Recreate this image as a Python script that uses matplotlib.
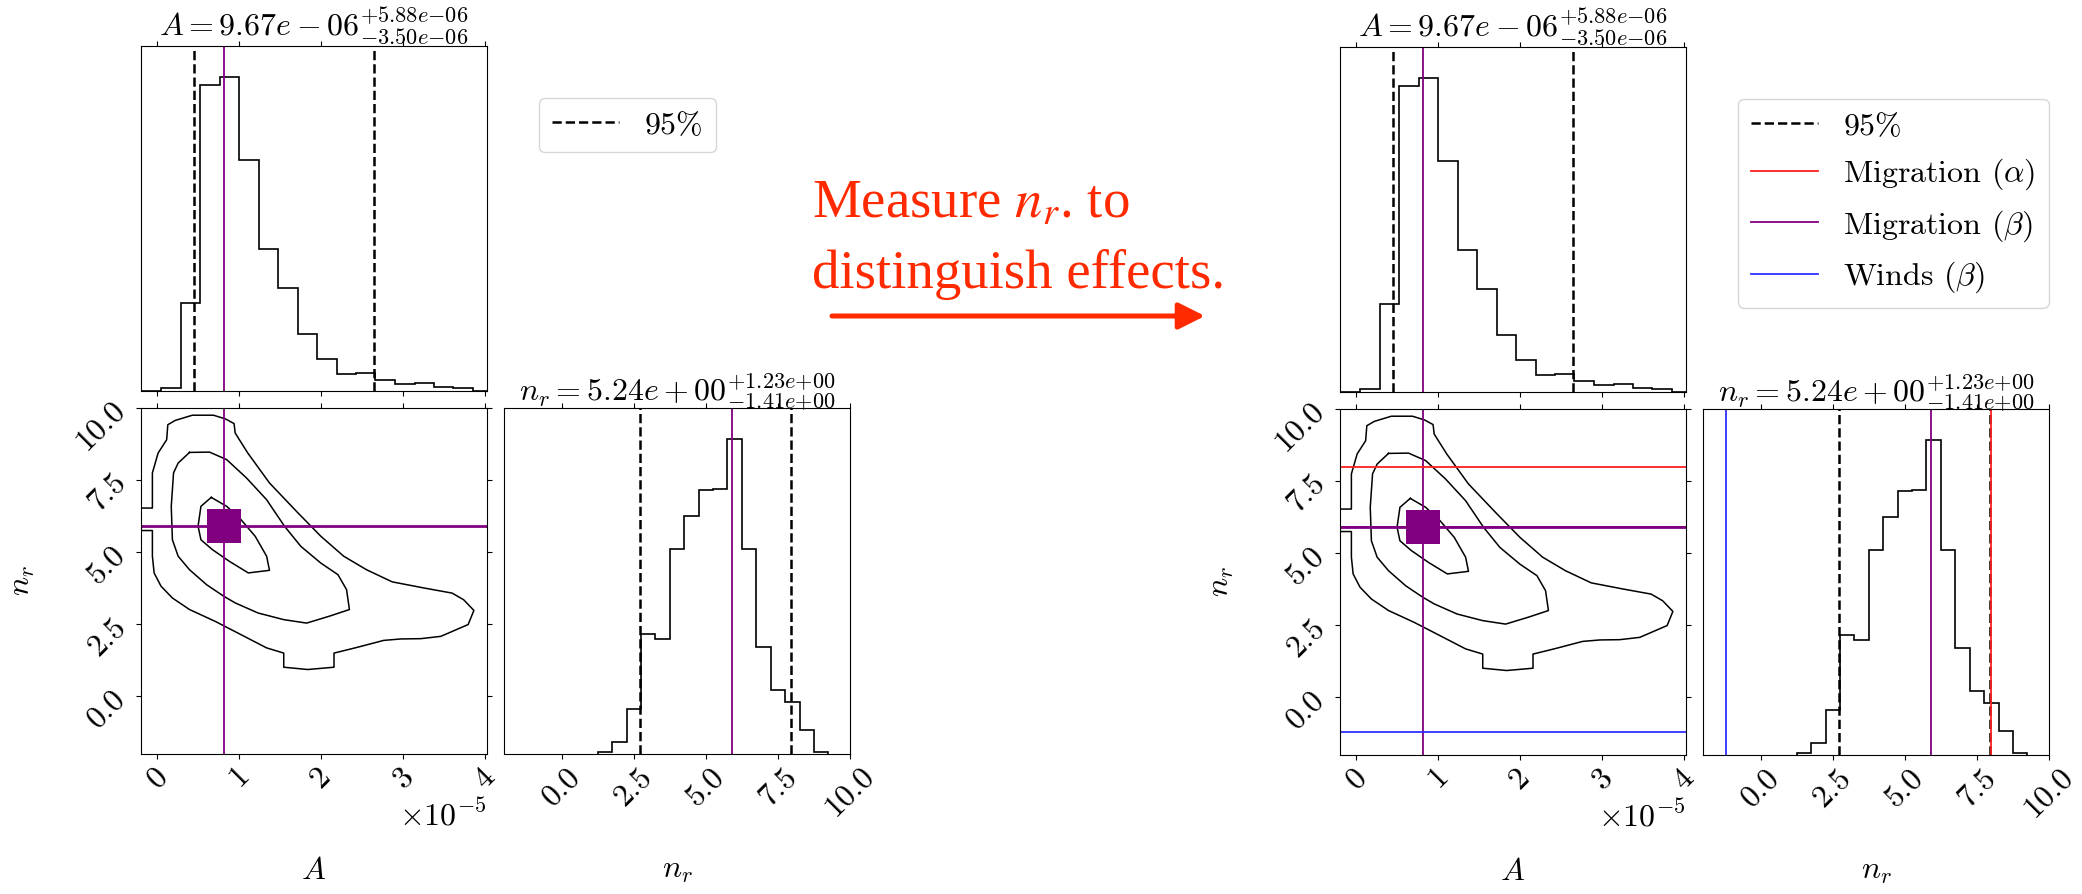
import matplotlib
matplotlib.use("Agg")
import matplotlib.pyplot as plt
from matplotlib.patches import FancyArrowPatch
from matplotlib.ticker import FixedLocator, ScalarFormatter

# ---- data ----
A_SCALE = 1e-5  # A values below are in units of 1e-5

# marginal histogram of A
a_edges = [-0.19, 0.05, 0.29, 0.52, 0.76, 1.00, 1.24, 1.47, 1.71, 1.95,
           2.19, 2.42, 2.66, 2.90, 3.14, 3.37, 3.61, 3.85, 4.09]
a_counts = [0, 8, 265, 920, 943, 694, 426, 309, 172, 97,
            51, 53, 32, 20, 23, 12, 10, 1]

# marginal histogram of n_r
nr_edges = [1.25, 1.75, 2.25, 2.75, 3.25, 3.75, 4.25, 4.75, 5.25,
            5.75, 6.25, 6.75, 7.25, 7.75, 8.25, 8.75, 9.25]
nr_counts = [6, 36, 134, 359, 345, 616, 714, 792, 795,
             943, 616, 322, 192, 155, 72, 5]

# 95% interval lines
a_95 = [0.45, 2.645]
nr_95 = [2.71, 7.95]

# truths / model predictions
a_true = 0.81
nr_beta = 5.9       # Migration (beta)
nr_alpha = 8.0      # Migration (alpha)
nr_winds = -1.2     # Winds (beta)

# 2D contour lines (A in 1e-5, n_r)
outer_a = [-0.200, -0.061, -0.061, 0.009, 0.113, 0.127, 0.218, 0.427, 0.684,
           0.831, 0.935, 0.949, 1.102, 1.367, 1.715, 1.994, 2.272, 2.551,
           2.864, 3.247, 3.595, 3.735, 3.860, 3.790, 3.595, 3.456, 3.212,
           2.969, 2.760, 2.411, 2.154, 2.154, 1.833, 1.541, 1.541, 1.332,
           1.019, 0.705, 0.392, 0.183, 0.044, -0.040, -0.061, -0.061, -0.200]
outer_n = [6.53, 6.53, 7.75, 8.44, 8.90, 9.42, 9.57, 9.75, 9.75,
           9.62, 9.46, 9.13, 8.44, 7.40, 6.36, 5.55, 4.86, 4.39,
           3.97, 3.76, 3.58, 3.35, 2.98, 2.49, 2.25, 2.08, 2.00,
           1.99, 1.94, 1.68, 1.50, 1.01, 0.93, 1.01, 1.50, 1.68,
           2.14, 2.60, 3.01, 3.41, 3.82, 4.28, 4.86, 5.75, 5.75]
mid_a = [0.392, 0.636, 0.845, 1.088, 1.332, 1.550, 1.750, 1.994, 2.202, 2.307,
         2.342, 2.098, 1.820, 1.541, 1.228, 0.949, 0.810, 0.601, 0.392, 0.253,
         0.183, 0.169, 0.197, 0.253, 0.392]
mid_n = [8.46, 8.47, 8.21, 7.57, 6.82, 5.90, 5.20, 4.62, 4.22, 3.70,
         3.01, 2.78, 2.54, 2.66, 2.89, 3.24, 3.47, 3.87, 4.39, 4.86,
         5.43, 6.59, 7.75, 8.09, 8.46]
inner_a = [0.657, 0.845, 1.019, 1.193, 1.332, 1.367, 1.109, 0.879, 0.670,
           0.531, 0.496, 0.531, 0.657]
inner_n = [6.90, 6.59, 6.13, 5.55, 4.86, 4.37, 4.28, 4.68, 5.09,
           5.43, 5.90, 6.59, 6.90]

a_ticks = [0, 1, 2, 3, 4]
nr_ticks = [0.0, 2.5, 5.0, 7.5, 10.0]
a_lim = (-0.2, 4.02)
nr_lim = (-2.0, 10.0)

title_a = r"$A = 9.67e-06^{+5.88e{-}06}_{-3.50e{-}06}$"
title_nr = r"$n_r = 5.24e+00^{+1.23e{+}00}_{-1.41e{+}00}$"

PURPLE = "#800080"
RED = "#ff2020"
BLUE = "#3030ff"
NOTE_RED = "#ff2a00"

plt.rcParams.update({
    "font.family": "serif",
    "font.serif": ["cmr10"],
    "mathtext.fontset": "cm",
    "axes.unicode_minus": False,
    "axes.formatter.use_mathtext": True,
    "font.size": 23,
    "xtick.direction": "out",
    "ytick.direction": "out",
})

W, H = 2082, 894
fig = plt.figure(figsize=(W / 100, H / 100), dpi=100)


def add_ax(left, top, w, h):
    return fig.add_axes([left / W, 1 - (top + h) / H, w / W, h / H])


def corner(x0, y0, with_models):
    size, gap = 346, 17
    ax_a = add_ax(x0, y0, size, size - 1)
    ax_2d = add_ax(x0, y0 + size + gap - 1, size, size)
    ax_nr = add_ax(x0 + size + gap, y0 + size + gap - 1, size, size)

    # A marginal
    ax_a.stairs(a_counts, [e * A_SCALE for e in a_edges], color="k", lw=1.2)
    ln95 = None
    for v in a_95:
        ln95 = ax_a.axvline(v * A_SCALE, color="k", ls="--", lw=1.8)
    ax_a.axvline(a_true * A_SCALE, color=PURPLE, lw=1.3)
    ax_a.set_xlim(a_lim[0] * A_SCALE, a_lim[1] * A_SCALE)
    ax_a.set_ylim(0, 1.1 * max(a_counts))
    ax_a.set_yticks([])
    ax_a.xaxis.set_major_locator(FixedLocator([t * A_SCALE for t in a_ticks]))
    ax_a.tick_params(axis="x", top=True, labelbottom=False)
    ax_a.set_title(title_a, fontsize=23, pad=5)

    # 2D panel
    for xs, ys in [(outer_a, outer_n), (mid_a, mid_n), (inner_a, inner_n)]:
        ax_2d.plot([x * A_SCALE for x in xs], ys, color="k", lw=1.1)
    ax_2d.axvline(a_true * A_SCALE, color=PURPLE, lw=1.3)
    ax_2d.axhline(nr_beta, color=PURPLE, lw=2.0)
    ax_2d.plot(a_true * A_SCALE, nr_beta, "s", color=PURPLE, ms=24, mew=0)
    handles = [ln95]
    labels = [r"$\mathrm{95\%}$"]
    if with_models:
        h_a = ax_2d.axhline(nr_alpha, color=RED, lw=1.3)
        h_w = ax_2d.axhline(nr_winds, color=BLUE, lw=1.3)
        h_b = ax_2d.axhline(nr_beta, color=PURPLE, lw=1.3)
        handles += [h_a, h_b, h_w]
        labels += [r"Migration ($\alpha$)", r"Migration ($\beta$)",
                   r"Winds ($\beta$)"]
    ax_2d.set_xlim(a_lim[0] * A_SCALE, a_lim[1] * A_SCALE)
    ax_2d.set_ylim(*nr_lim)
    ax_2d.xaxis.set_major_locator(FixedLocator([t * A_SCALE for t in a_ticks]))
    ax_2d.yaxis.set_major_locator(FixedLocator(nr_ticks))
    fmt = ScalarFormatter(useMathText=True)
    fmt.set_powerlimits((-3, 3))
    ax_2d.xaxis.set_major_formatter(fmt)
    ax_2d.yaxis.set_major_formatter(ScalarFormatter(useMathText=True))
    ax_2d.tick_params(top=True, right=True)
    for lab in ax_2d.get_xticklabels() + ax_2d.get_yticklabels():
        lab.set_rotation(45)
    ax_2d.xaxis.get_offset_text().set_fontsize(23)
    ax_2d.set_xlabel(r"$A$", fontsize=23)
    ax_2d.set_ylabel(r"$n_r$", fontsize=23)
    ax_2d.xaxis.set_label_coords(0.5, -0.3)
    ax_2d.yaxis.set_label_coords(-0.3, 0.5)

    # n_r marginal
    ax_nr.stairs(nr_counts, nr_edges, color="k", lw=1.2)
    for v in nr_95:
        ax_nr.axvline(v, color="k", ls="--", lw=1.8)
    ax_nr.axvline(nr_beta, color=PURPLE, lw=1.3)
    if with_models:
        ax_nr.axvline(nr_alpha, color=RED, lw=1.3)
        ax_nr.axvline(nr_winds, color=BLUE, lw=1.3)
    ax_nr.set_xlim(*nr_lim)
    ax_nr.set_ylim(0, 1.1 * max(nr_counts))
    ax_nr.set_yticks([])
    ax_nr.xaxis.set_major_locator(FixedLocator(nr_ticks))
    ax_nr.xaxis.set_major_formatter(ScalarFormatter(useMathText=True))
    ax_nr.tick_params(axis="x", top=True)
    for lab in ax_nr.get_xticklabels():
        lab.set_rotation(45)
    ax_nr.set_xlabel(r"$n_r$", fontsize=23)
    ax_nr.xaxis.set_label_coords(0.5, -0.3)
    ax_nr.set_title(title_nr, fontsize=23, pad=5)

    fig.legend(handles, labels, loc="upper left",
               bbox_to_anchor=((x0 + size + gap + 35) / W, 1 - (y0 + 52) / H),
               borderaxespad=0, fontsize=23, handlelength=2.1)


corner(141, 46, with_models=False)
corner(1340, 47, with_models=True)

# note between the panels
fig.text(812 / W, 1 - 218 / H, r"Measure $n_r$. to", color=NOTE_RED,
         family="Liberation Serif", math_fontfamily="stix",
         fontsize=39.5, va="baseline")
fig.text(812 / W, 1 - 288 / H, "distinguish effects.", color=NOTE_RED,
         family="Liberation Serif", fontsize=39.5, va="baseline")
fig.add_artist(FancyArrowPatch((832 / W, 1 - 316 / H), (1205 / W, 1 - 316 / H),
                               transform=fig.transFigure,
                               arrowstyle="-|>,head_length=16,head_width=8",
                               color=NOTE_RED, lw=3.6, shrinkA=0, shrinkB=0))

fig.savefig("out.png", dpi=100)
